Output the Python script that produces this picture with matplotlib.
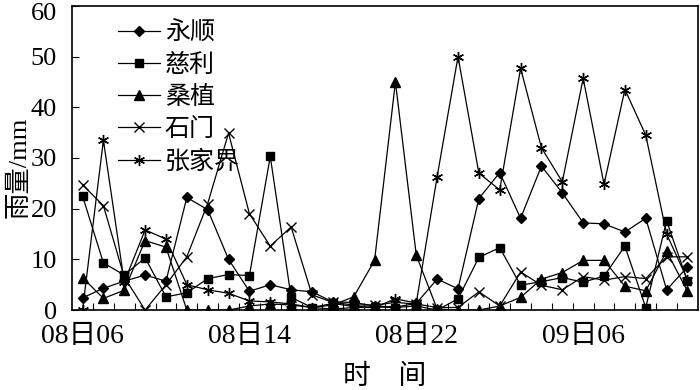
import matplotlib
matplotlib.use("Agg")
import matplotlib.pyplot as plt
from matplotlib.transforms import ScaledTranslation

plt.rcParams["font.family"] = ["Liberation Serif", "Noto Sans CJK SC"]

# 08日06 ... 09日11, one value per hour
times = ["08日06", "08日07", "08日08", "08日09", "08日10", "08日11", "08日12", "08日13",
         "08日14", "08日15", "08日16", "08日17", "08日18", "08日19", "08日20", "08日21",
         "08日22", "08日23", "09日00", "09日01", "09日02", "09日03", "09日04", "09日05",
         "09日06", "09日07", "09日08", "09日09", "09日10", "09日11"]
tick_labels = ["08日06", "08日14", "08日22", "09日06"]

yongshun = [2.4, 4.3, 5.7, 6.9, 5.7, 22.2, 19.8, 10.0, 3.7, 5.0,
            4.0, 3.6, 1.6, 1.5, 0.8, 0.6, 1.3, 6.1, 4.2, 22.0,
            27.1, 18.1, 28.4, 23.1, 17.2, 17.0, 15.4, 18.1, 4.0, 8.5]
cili = [22.5, 9.3, 6.9, 10.3, 2.6, 3.4, 6.2, 7.0, 6.8, 30.3,
        2.5, 0.5, 1.3, 0.7, 0.6, 0.5, 0.8, 0.0, 2.2, 10.4,
        12.3, 4.9, 5.6, 6.4, 5.5, 6.7, 12.6, 0.5, 17.6, 5.7]
sangzhi = [6.4, 2.3, 3.9, 13.7, 12.4, 0.0, 0.0, 0.0, 0.8, 1.2,
           1.0, 0.5, 1.0, 2.6, 9.8, 45.0, 10.8, 0.2, 0.0, 0.0,
           0.8, 2.5, 6.1, 7.4, 9.8, 9.8, 4.7, 3.8, 11.6, 3.7]
shimen = [24.7, 20.6, 6.5, 0.0, 5.0, 10.5, 21.0, 34.9, 19.0, 12.6,
          16.4, 3.0, 1.5, 1.0, 1.0, 1.5, 1.2, 0.5, 0.5, 3.6,
          0.8, 7.5, 4.9, 4.0, 6.6, 5.9, 6.6, 6.2, 10.5, 10.5]
zhangjiajie = [0.0, 33.5, 5.5, 15.8, 14.0, 5.0, 4.0, 3.3, 1.8, 1.6,
               1.2, 0.5, 0.2, 0.5, 0.5, 2.2, 1.4, 26.3, 50.0, 27.0,
               23.7, 47.7, 32.0, 25.3, 45.7, 24.8, 43.5, 34.5, 15.0, 6.0]

series = [
    ("永顺", yongshun, "D", 5.5),
    ("慈利", cili, "s", 6),
    ("桑植", sangzhi, "^", 7),
    ("石门", shimen, "x", 7),
    ("张家界", zhangjiajie, (6, 2, 0), 8),
]

fig = plt.figure(figsize=(7, 3.9), dpi=100)
ax = fig.add_axes([0.103, 0.205, 0.894, 0.78])

x = list(range(len(times)))
for name, vals, mk, ms in series:
    ax.plot(x, vals, color="black", lw=0.9, marker=mk, markersize=ms,
            markeredgewidth=1.0, label=name)

ax.set_xlim(-0.5, len(times) - 0.5)
ax.set_ylim(0, 60)
ax.set_yticks(range(0, 61, 10))

pos = [times.index(t) for t in tick_labels]
ax.set_xticks(pos)
ax.set_xticklabels(tick_labels)
ax.set_xticks([i + 0.5 for i in range(len(times) - 1)], minor=True)
ax.tick_params(axis="x", which="major", length=0, pad=10, labelsize=20)
ax.tick_params(axis="x", which="minor", direction="in", length=5, width=0.8)
ax.tick_params(axis="y", direction="in", length=5, width=0.8, labelsize=19, pad=11)

# top label "60" sits a little lower in the original
top = ax.get_yticklabels()[-1]
top.set_transform(top.get_transform() + ScaledTranslation(0, -4 / 72, fig.dpi_scale_trans))

for s in ax.spines.values():
    s.set_linewidth(1.2)

ax.set_xlabel("时　间", fontsize=20, family="Noto Sans CJK SC", labelpad=9)
ax.set_ylabel("雨量/mm", fontsize=19)
ax.yaxis.set_label_coords(-0.067, 0.47)

ax.legend(loc="upper left", bbox_to_anchor=(0.05, 1.005), frameon=False,
          prop={"family": "Noto Sans CJK SC", "size": 18},
          handlelength=1.65, handletextpad=0.2, labelspacing=0.25,
          borderaxespad=0.2)

fig.savefig("out.png", dpi=100)
